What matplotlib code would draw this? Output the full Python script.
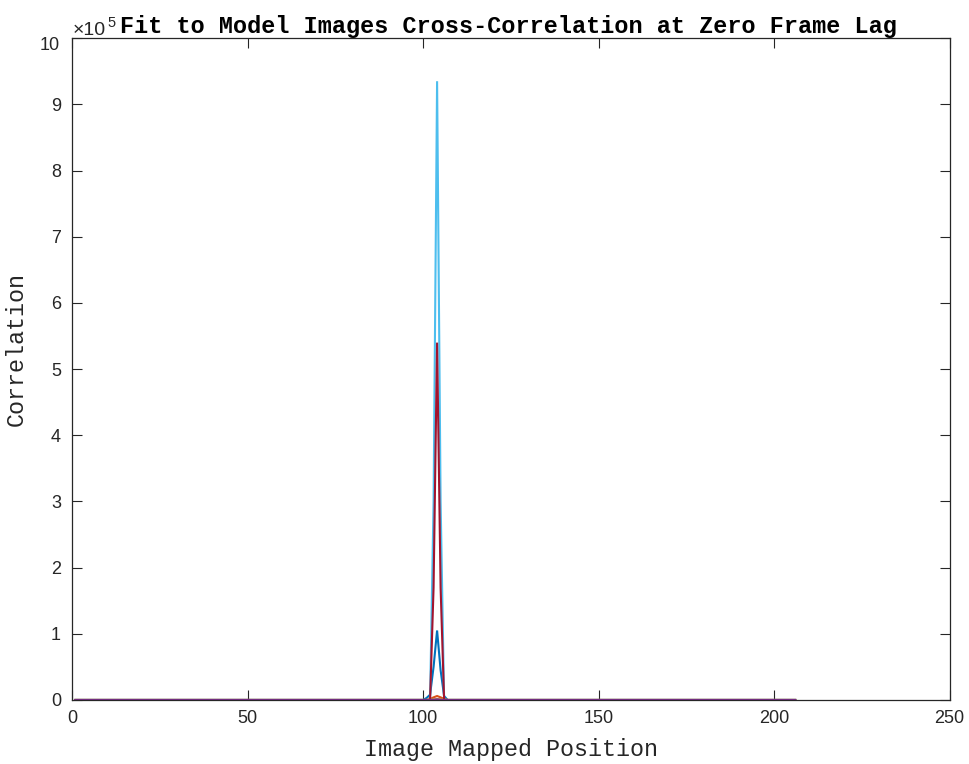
import numpy as np
import matplotlib
matplotlib.use("Agg")
import matplotlib.pyplot as plt
from matplotlib.ticker import FuncFormatter

# Number of mapped positions in each correlation trace
n_positions = 206
peak_positions = [101, 102, 103, 104, 105, 106, 107]

# Correlation values around the peak (zero elsewhere)
blue_peak = [3000, 8000, 50000, 105000, 45000, 6000, 0]
orange_peak = [0, 1500, 4000, 6000, 4000, 1500, 0]
yellow_peak = [0, 300, 800, 1200, 800, 300, 0]
green_peak = [0, 0, 200, 400, 200, 0, 0]
lightblue_peak = [0, 0, 300000, 935000, 300000, 0, 0]
darkred_peak = [0, 0, 170000, 540000, 170000, 0, 0]
purple_peak = [0, 0, 500, 1000, 500, 0, 0]

series = [
    ("blue", blue_peak, (0.000, 0.447, 0.741)),
    ("orange", orange_peak, (0.850, 0.325, 0.098)),
    ("yellow", yellow_peak, (0.929, 0.694, 0.125)),
    ("green", green_peak, (0.466, 0.674, 0.188)),
    ("lightblue", lightblue_peak, (0.301, 0.745, 0.933)),
    ("darkred", darkred_peak, (0.635, 0.078, 0.184)),
    ("purple", purple_peak, (0.494, 0.184, 0.556)),
]

x_ticks = [0, 50, 100, 150, 200, 250]
y_ticks = [i * 1e5 for i in range(11)]

fig = plt.figure(figsize=(9.69, 7.64), dpi=100)
ax = fig.add_axes([0.0743, 0.0838, 0.9057, 0.8662])

positions = np.arange(1, n_positions + 1)
for name, peak, color in series:
    values = np.zeros(n_positions)
    for p, v in zip(peak_positions, peak):
        values[p - 1] = v
    ax.plot(positions, values, color=color, lw=1.5, solid_joinstyle="miter")

axis_col = (0.15, 0.15, 0.15)
ax.set_xlim(0, 250)
ax.set_ylim(0, 1e6)
ax.set_xticks(x_ticks)
ax.set_yticks(y_ticks)
# top label is drawn separately, nudged below the exponent
ax.yaxis.set_major_formatter(
    FuncFormatter(lambda v, p: "" if v >= 1e6 else f"{v / 1e5:g}"))
ax.tick_params(direction="in", length=7, width=0.8, colors=axis_col,
               top=True, right=True, labelsize=13)
ax.tick_params(axis="x", pad=7)
ax.tick_params(axis="y", pad=8)
for lab in ax.get_xticklabels() + ax.get_yticklabels():
    lab.set_family("Liberation Sans")
for s in ax.spines.values():
    s.set_color(axis_col)
    s.set_linewidth(0.9)

fig.text(0.0620, 0.9400, f"{y_ticks[-1] / 1e5:g}", family="Liberation Sans",
         fontsize=13, ha="right", va="center", color=axis_col)

ax.set_xlabel("Image Mapped Position", family="Liberation Mono",
              fontsize=16.8, color=axis_col, labelpad=8)
ax.set_ylabel("Correlation", family="Liberation Mono",
              fontsize=16.8, color=axis_col)
ax.yaxis.set_label_coords(-0.050, 0.53)

fig.text(0.5248, 0.957, "Fit to Model Images Cross-Correlation at Zero Frame Lag",
         family="Liberation Mono", fontweight="bold", fontsize=16.9,
         ha="center", va="baseline", color="black")
fig.text(0.0745, 0.954, "\u00d710", family="Liberation Sans",
         fontsize=14, ha="left", va="baseline", color=axis_col)
fig.text(0.1104, 0.965, "5", family="Liberation Sans",
         fontsize=10.5, ha="left", va="baseline", color=axis_col)

fig.savefig("out.png", dpi=100)
